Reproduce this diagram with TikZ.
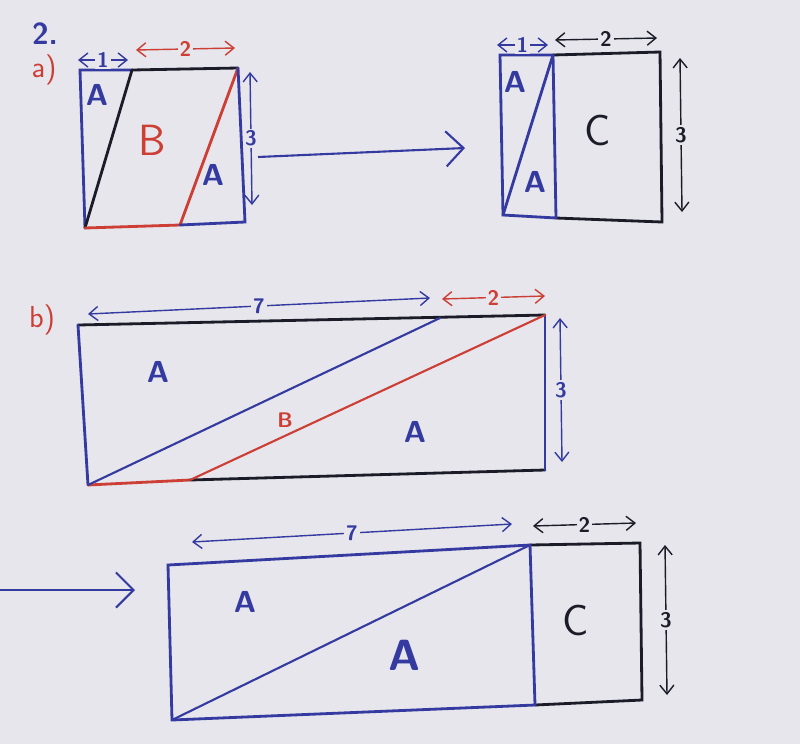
\documentclass[tikz,border=0pt]{standalone}
\usetikzlibrary{arrows.meta}
\definecolor{pen}{RGB}{52,58,160}
\definecolor{redpen}{RGB}{205,62,52}
\definecolor{ink}{RGB}{28,28,40}
\definecolor{paper}{RGB}{230,230,236}
\tikzset{
  lbl/.style={font=\sffamily\bfseries\LARGE},
  dim/.style={{Straight Barb[length=5pt,width=8pt]}-{Straight Barb[length=5pt,width=8pt]}, thick},
  dimtxt/.style={fill=paper, inner sep=1pt, font=\sffamily\bfseries\large},
  side/.style={line width=1.6pt, line cap=round},
  diag/.style={line width=1.2pt, line cap=round},
  bigarrow/.style={pen, line width=1.2pt, -{Straight Barb[length=10pt,width=20pt]}}
}

\begin{document}
\begin{tikzpicture}[x=0.02cm, y=-0.02cm]
  \fill[paper] (0,0) rectangle (800,744);
  \useasboundingbox (0,0) rectangle (800,744);

  \node[lbl, pen, inner sep=0pt] (num) at (45,34) {2.};
  \node[redpen, font=\sffamily\LARGE, inner sep=0pt] (parta) at (44,70) {a)};
  \node[redpen, font=\sffamily\LARGE, inner sep=0pt] (partb) at (42,320) {b)};

  % a) before
  \coordinate (a1) at (80,70);
  \coordinate (a2) at (132,70);
  \coordinate (a3) at (238,68);
  \coordinate (a4) at (245,222);
  \coordinate (a5) at (180,225);
  \coordinate (a6) at (85,228);
  \draw[side, pen] (a6) -- (a1) -- (a2);
  \draw[side, ink] (a2) -- (a3);
  \draw[side, ink] (a2) -- (a6);
  \draw[side, redpen] (a3) -- (a5) (a6) -- (a5);
  \draw[side, pen] (a5) -- (a4) -- (a3);
  \draw[dim, pen] (78,60) -- node[dimtxt] (d1) {1} (128,60);
  \draw[dim, redpen] (136,50) -- node[dimtxt] (d2) {2} (235,48);
  \draw[dim, pen] (250,72) -- node[dimtxt] (d3) {3} (252,205);
  \node[lbl, pen] (la1) at (97,95) {A};
  \node[redpen, font=\sffamily\Huge] (lb) at (152,140) {B};
  \node[lbl, pen] (la2) at (213,175) {A};

  \coordinate (s1) at (258,157);
  \coordinate (s2) at (465,148);
  \draw[bigarrow] (s1) -- (s2);

  % a) after
  \coordinate (b1) at (500,55);
  \coordinate (b2) at (553,55);
  \coordinate (b3) at (556,218);
  \coordinate (b4) at (503,215);
  \coordinate (b5) at (660,52);
  \coordinate (b6) at (662,222);
  \draw[side, ink] (b2) -- (b5) -- (b6) -- (b3);
  \draw[side, pen] (b1) -- (b2) -- (b3) -- (b4) -- cycle;
  \draw[side, pen] (b2) -- (b4);
  \draw[dim, pen] (497,45) -- node[dimtxt] (d4) {1} (548,45);
  \draw[dim, ink] (555,40) -- node[dimtxt] (d5) {2} (657,38);
  \draw[dim, ink] (680,58) -- node[dimtxt] (d6) {3} (682,212);
  \node[lbl, pen] (la3) at (515,82) {A};
  \node[lbl, pen] (la4) at (535,182) {A};
  \node[ink, font=\sffamily\Huge] (lc1) at (598,130) {C};

  % b) before
  \coordinate (c1) at (78,325);
  \coordinate (c2) at (440,318);
  \coordinate (c3) at (545,315);
  \coordinate (c4) at (545,470);
  \coordinate (c5) at (190,480);
  \coordinate (c6) at (88,485);
  \draw[side, ink] (c1) -- (c3);
  \draw[side, pen] (c1) -- (c6);
  \draw[side, redpen] (c6) -- (c5);
  \draw[side, ink] (c5) -- (c4);
  \draw[side, pen] (c3) -- (c4);
  \draw[diag, pen] (c6) -- (c2);
  \draw[diag, redpen] (c5) -- (c3);
  \draw[dim, pen] (88,314) -- node[dimtxt] (d7) {7} (430,298);
  \draw[dim, redpen] (442,299) -- node[dimtxt] (d8) {2} (545,296);
  \draw[dim, pen] (560,318) -- node[dimtxt] (d9) {3} (562,462);
  \node[lbl, pen] (la5) at (158,372) {A};
  \node[redpen, font=\sffamily\bfseries\large] (lb2) at (285,420) {B};
  \node[lbl, pen] (la6) at (415,432) {A};

  \coordinate (t1) at (0,590);
  \coordinate (t2) at (135,590);
  \draw[bigarrow] (t1) -- (t2);

  % b) after
  \coordinate (e1) at (168,565);
  \coordinate (e2) at (530,545);
  \coordinate (e3) at (640,543);
  \coordinate (e4) at (642,700);
  \coordinate (e5) at (535,705);
  \coordinate (e6) at (172,720);
  \draw[side, ink] (e2) -- (e3) -- (e4) -- (e5);
  \draw[side, pen] (e1) -- (e2) -- (e5) -- (e6) -- cycle;
  \draw[diag, pen] (e6) -- (e2);
  \draw[dim, pen] (192,542) -- node[dimtxt] (d10) {7} (512,524);
  \draw[dim, ink] (533,526) -- node[dimtxt] (d11) {2} (636,523);
  \draw[dim, ink] (665,545) -- node[dimtxt] (d12) {3} (667,695);
  \node[lbl, pen] (la7) at (245,602) {A};
  \node[lbl, pen, font=\sffamily\bfseries\Huge] (la8) at (405,655) {A};
  \node[ink, font=\sffamily\Huge] (lc2) at (576,620) {C};
\end{tikzpicture}
\end{document}
